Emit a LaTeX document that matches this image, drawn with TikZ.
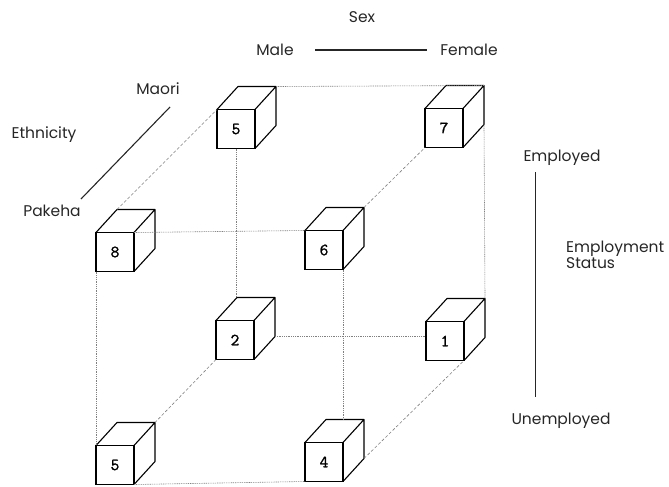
\documentclass[tikz,border=0pt]{standalone}
\usepackage{fontspec}
\setmainfont{Poppins}
\newfontfamily\numfont{Latin Modern Mono}[FakeBold=1.2]
\usetikzlibrary{calc}
\tikzset{
  box/.style={draw,line width=1.1pt,fill=white,minimum width=38pt,minimum height=39pt,
              inner sep=0pt,outer sep=0pt,font=\fontsize{17}{17}\selectfont\numfont},
  cb/.style ={line width=1.1pt,line join=round},
  frm/.style={black!50,line width=.6pt,dash pattern=on 1pt off .8pt},
  dsh/.style={black!50,line width=.6pt,dash pattern=on 3pt off 2pt},
  ax/.style ={line width=.9pt,black!85},
  lbl/.style={font=\fontsize{15.5}{16}\selectfont,text=black!85,inner sep=1pt},
}
\begin{document}
\begin{tikzpicture}[x=1pt,y=-1pt]
  \useasboundingbox (0,0) rectangle (669,487);
  % cells of the cube
  \foreach \n/\x/\y/\t in {c5t/236/129/5,c7/444/128/7,c8/115/252/8,c6/324/250/6,
                           c2/235/340/2,c1/445/341/1,c5b/115/465/5,c4/324/462/4}{
    \node[box] (\n) at (\x,\y) {\t};
    \draw[cb] (\n.north west) -- ++(21,-23) coordinate (\n-tl)
          -- ($(\n.north east)+(21,-23)$) coordinate (\n-tr)
          -- ($(\n.south east)+(21,-23)$) coordinate (\n-br) -- (\n.south east)
          (\n.north east) -- (\n-tr);
  }
  % frame
  \draw[frm] (c5t-tr) -- (c7-tr);
  \draw[frm] (c7-br) -- (c1-tr);
  \draw[frm] (c5t.south) -- (c5t.south |- c2-tl);
  \draw[frm] (c8.north east) -- (c6.north west);
  \draw[frm] (c6.south east) -- (c6.south east |- c4-tl);
  \draw[frm] (c8.south west) -- (c5b.north west);
  \draw[frm] (c5b.south east) -- (c4.south west);
  \draw[frm] (c2-br) -- (c2-br -| c1.west);
  \draw[dsh] (c8-tl) -- (c5t.north west);
  \draw[dsh] (c6-tr) -- (c7.south west);
  \draw[dsh] (c2.south west) -- (c5b-tr);
  \draw[dsh] (c4-br) -- (c1.south east);
  % axes
  \node[lbl] (sex) at (362,17) {Sex};
  \node[lbl] (male) at (275,50) {Male};
  \node[lbl] (fem) at (469,50) {Female};
  \coordinate (m1) at (315,50);
  \coordinate (m2) at (427,50);
  \draw[ax,line width=1.1pt] (m1) -- (m2);
  \node[lbl] (maori) at (158,89) {Maori};
  \node[lbl] (eth) at (44,135) {Ethnicity};
  \node[lbl] (pak) at (52,211) {Pakeha};
  \coordinate (e1) at (81,199);
  \coordinate (e2) at (170,107);
  \draw[ax,line width=1.1pt] (e1) -- (e2);
  \node[lbl] (emp) at (562,158) {Employed};
  \node[lbl] (unemp) at (561,421) {Unemployed};
  \node[lbl,anchor=west,align=left] (stat) at (565,255) {Employment\\Status};
  \coordinate (s1) at (535,172);
  \coordinate (s2) at (535,397);
  \draw[ax] (s1) -- (s2);
\end{tikzpicture}
\end{document}
